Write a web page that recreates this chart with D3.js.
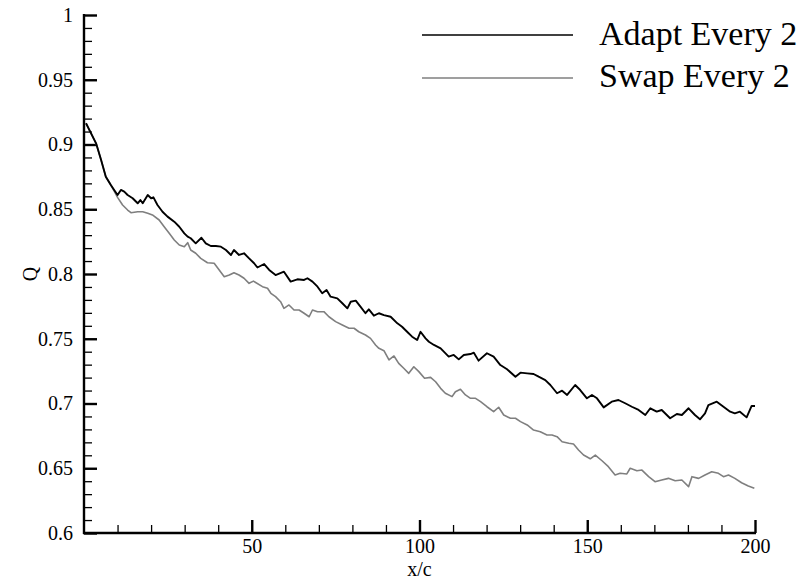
<!DOCTYPE html>
<html>
<head>
<meta charset="utf-8">
<script src="https://cdn.jsdelivr.net/npm/d3@7"></script>
<style>
html,body{margin:0;padding:0;background:#fff;}
svg{display:block;}
</style>
</head>
<body>
<svg id="chart" width="798" height="584"></svg>
<script>
const seriesNames = ["Adapt Every 2", "Swap Every 2"];
const xTickLabels = [50, 100, 150, 200];
const yTickLabels = [0.6, 0.65, 0.7, 0.75, 0.8, 0.85, 0.9, 0.95, 1];
const xTitle = "x/c";
const yTitle = "Q";

const adaptX = [0.6,3.6,5.1,6.5,8,10,11,12,13,14.5,16,16.8,17.5,19,20,20.7,21.9,23.4,24.9,26.9,28.4,29.9,30.9,31.8,33.3,35,36.3,37.8,39.3,40.8,42.3,43.8,44.7,46.2,47.7,49.2,50.7,51.7,53.7,55.2,57.1,59.6,61.6,63.6,65.6,66.6,68.1,69.6,71,72.3,73.5,75.5,77,78.5,79.5,81,82.4,83.9,84.9,86.4,87.9,89.4,91.4,93.4,94.8,96.3,97.8,99.3,100.3,101.8,102.8,104.3,106.3,108.7,110.2,111.7,113.2,115.2,116.2,117.6,120.1,122.1,124.1,126.1,128.6,130.1,132.1,134,135.5,137.5,139,141,142.5,144,146.4,147.9,149.9,151.4,152.9,154.9,157.3,159.3,161.3,163.3,165.3,167.3,168.8,170.7,172.2,174.7,176.7,178.2,180.2,182.1,183.6,185.1,186.1,188.6,190.6,192.6,194,195.5,197.5,199,200];
const adaptQ = [0.9164,0.9009,0.888,0.8751,0.8687,0.861,0.8649,0.8636,0.861,0.8585,0.8546,0.8571,0.8546,0.861,0.8585,0.8592,0.8533,0.8481,0.8443,0.8404,0.8365,0.8314,0.8288,0.8276,0.8237,0.828,0.8237,0.8216,0.8216,0.8211,0.8185,0.8147,0.8185,0.8147,0.816,0.8121,0.8083,0.805,0.8077,0.8031,0.7992,0.8018,0.7941,0.7959,0.7954,0.7967,0.7941,0.7902,0.7851,0.7876,0.7825,0.7812,0.7774,0.7735,0.7786,0.7794,0.7748,0.7697,0.7727,0.7678,0.7697,0.7683,0.767,0.7619,0.7593,0.7554,0.7516,0.749,0.7554,0.7503,0.7477,0.7452,0.7426,0.7362,0.7375,0.7341,0.7375,0.7382,0.7392,0.7331,0.7388,0.7362,0.7297,0.7264,0.7207,0.7238,0.7233,0.7228,0.7207,0.7181,0.7143,0.7079,0.7099,0.7066,0.7143,0.7104,0.704,0.7066,0.704,0.697,0.7014,0.7027,0.7002,0.6975,0.695,0.6911,0.6963,0.6937,0.695,0.6886,0.6919,0.6911,0.6963,0.6911,0.6878,0.6924,0.6988,0.7014,0.6975,0.6937,0.6924,0.6937,0.6893,0.6981,0.6981];

const swapX = [0.6,3.6,5.1,6.5,8,9,10,11.5,13,14,16,17.5,19,20.4,22.4,23.9,25.4,26.9,28.4,29.9,30.9,31.8,33.3,34.8,36.8,38.8,40.3,41.8,43.3,44.7,46.2,47.7,49.2,50.5,53.2,54.7,55.7,57.1,58.6,59.6,61.1,62.6,64.1,65.6,67.1,68.1,69.6,71.5,73,75,77,79,80.5,81.9,83.9,85.4,86.9,87.9,89.4,90.9,92.4,93.8,95.3,96.8,98.3,99.8,101.5,103.3,104.8,106.3,107.7,109.7,110.7,112.2,113.7,115.2,116.7,118.2,120.1,122.1,123.6,125.1,127.1,128.6,130.1,132.1,134,136,138,139.5,141,142.5,144.5,145.9,147.4,148.9,150.9,152.4,154.4,156.3,158.3,159.8,161.8,162.8,164.8,166.3,168.3,170.2,172.2,174.2,176.2,178.2,180.2,181.2,183.2,185.1,187.1,189.1,190.6,192.1,194,196,198,199.8];
const swapQ = [0.9164,0.9009,0.888,0.8751,0.8687,0.864,0.8592,0.8533,0.8494,0.8473,0.8481,0.8481,0.8469,0.8456,0.8417,0.8365,0.8314,0.8263,0.8224,0.8211,0.8242,0.8185,0.816,0.8121,0.8087,0.8083,0.8031,0.7979,0.7992,0.801,0.7992,0.7967,0.7928,0.7945,0.7902,0.789,0.7851,0.7825,0.7786,0.7735,0.7761,0.7722,0.7722,0.7697,0.767,0.7722,0.7709,0.7709,0.767,0.7632,0.7606,0.7581,0.7581,0.7554,0.7529,0.7503,0.7452,0.7426,0.7408,0.7336,0.7367,0.731,0.7272,0.7233,0.7284,0.7246,0.7195,0.7202,0.7168,0.7117,0.7079,0.7053,0.7091,0.711,0.7066,0.704,0.704,0.7014,0.6975,0.6937,0.6971,0.6911,0.6886,0.6886,0.686,0.6834,0.6795,0.6782,0.6757,0.6757,0.6744,0.6705,0.6693,0.6687,0.6641,0.6602,0.6573,0.6602,0.6558,0.6512,0.6448,0.6461,0.6456,0.65,0.6481,0.6486,0.6435,0.6396,0.6409,0.6422,0.6404,0.6409,0.6358,0.6435,0.6422,0.6448,0.6473,0.6461,0.6435,0.6448,0.6422,0.6388,0.6363,0.6345];

const FONT = '"Liberation Serif", "Times New Roman", serif';
const svg = d3.select("#chart");
const L = 84, R = 755, T = 15, B = 533;
const x = d3.scaleLinear().domain([0, 200]).range([L, R]);
const y = d3.scaleLinear().domain([0.6, 1]).range([B, T]);

// minor ticks
const minorX = d3.range(10, 200, 10).filter(v => v % 50 !== 0);
const minorY = d3.range(0.61, 1.0, 0.01).map(v => +v.toFixed(2)).filter(v => Math.round(v * 100) % 5 !== 0);

const gxMinor = svg.append("g").attr("transform", `translate(0,${B})`)
  .call(d3.axisBottom(x).tickValues(minorX).tickSizeInner(-8).tickSizeOuter(0).tickFormat(""));
gxMinor.select(".domain").remove();
gxMinor.selectAll("line").attr("stroke", "#000").attr("stroke-width", 1.3);

const gyMinor = svg.append("g").attr("transform", `translate(${L},0)`)
  .call(d3.axisLeft(y).tickValues(minorY).tickSizeInner(-8).tickSizeOuter(0).tickFormat(""));
gyMinor.select(".domain").remove();
gyMinor.selectAll("line").attr("stroke", "#000").attr("stroke-width", 1.3);

// major axes
const gx = svg.append("g").attr("transform", `translate(0,${B})`)
  .attr("font-family", FONT).attr("font-size", 20)
  .call(d3.axisBottom(x).tickValues(xTickLabels).tickSizeInner(-13).tickSizeOuter(0).tickPadding(6).tickFormat(d3.format("d")));
gx.attr("font-family", FONT).attr("font-size", 20);
gx.select(".domain").attr("stroke", "#000").attr("stroke-width", 2.4).attr("d", `M${L - 1},0H${R + 1}`);
gx.selectAll("line").attr("stroke", "#000").attr("stroke-width", 2.4);
gx.selectAll("text").attr("font-family", FONT).attr("font-size", 20).attr("fill", "#000");

const gy = svg.append("g").attr("transform", `translate(${L},0)`)
  .call(d3.axisLeft(y).tickValues(yTickLabels).tickSizeInner(-13).tickSizeOuter(0).tickPadding(11).tickFormat(d => String(+d.toFixed(2))));
gy.attr("font-family", FONT).attr("font-size", 20);
gy.select(".domain").attr("stroke", "#000").attr("stroke-width", 2.4).attr("d", `M0,${T - 1}V${B + 1}`);
gy.selectAll("line").attr("stroke", "#000").attr("stroke-width", 2.4);
gy.selectAll("text").attr("font-family", FONT).attr("font-size", 20).attr("fill", "#000");

// titles
svg.append("text").attr("x", (L + R) / 2).attr("y", 576).attr("text-anchor", "middle")
  .attr("font-family", FONT).attr("font-size", 20).text(xTitle);
svg.append("text").attr("transform", `translate(37,${(T + B) / 2}) rotate(-90)`).attr("text-anchor", "middle")
  .attr("font-family", FONT).attr("font-size", 20).text(yTitle);

// lines
const line = d3.line().x(d => x(d[0])).y(d => y(d[1]));
const swapData = swapX.map((v, i) => [v, swapQ[i]]);
const adaptData = adaptX.map((v, i) => [v, adaptQ[i]]);
const colors = ["#000000", "#7f7f7f"];
svg.append("path").datum(swapData).attr("d", line).attr("fill", "none")
  .attr("stroke", colors[1]).attr("stroke-width", 1.6).attr("stroke-linejoin", "round");
svg.append("path").datum(adaptData).attr("d", line).attr("fill", "none")
  .attr("stroke", colors[0]).attr("stroke-width", 1.9).attr("stroke-linejoin", "round");

// legend
const legY = [35, 78];
const legTextY = [45, 87];
seriesNames.forEach((name, i) => {
  svg.append("line").attr("x1", 422).attr("x2", 573).attr("y1", legY[i]).attr("y2", legY[i])
    .attr("stroke", colors[i]).attr("stroke-width", 1.6);
  svg.append("text").attr("x", 599).attr("y", legTextY[i]).attr("font-family", FONT)
    .attr("font-size", 34).attr("fill", "#000").text(name);
});
</script>
</body>
</html>
